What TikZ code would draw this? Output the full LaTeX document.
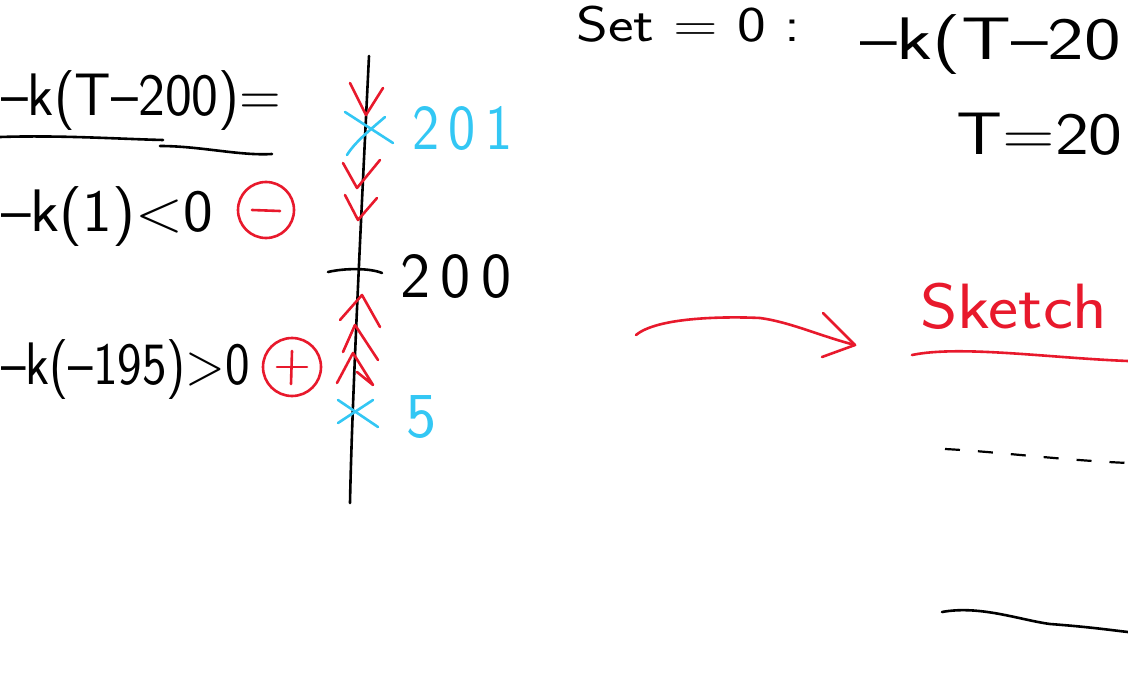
\documentclass[tikz,border=0pt]{standalone}
\usetikzlibrary{calc}
\definecolor{inkred}{HTML}{E8192C}
\definecolor{inkblue}{HTML}{33C7F4}
\tikzset{
  ink/.style={line width=2.6pt, line cap=round, line join=round},
  hand/.style={inner sep=0pt, anchor=base west, font=\fontsize{60}{70}\selectfont\sffamily},
  handmid/.style={inner sep=0pt, anchor=base west, font=\fontsize{50}{58}\selectfont\sffamily},
  handbig/.style={inner sep=0pt, anchor=base west, font=\fontsize{64}{74}\selectfont\sffamily},
}
\begin{document}
\begin{tikzpicture}[x=1pt,y=-1pt]
\useasboundingbox (0,0) rectangle (1128,698);
\clip (0,0) rectangle (1128,698);
\fill[white] (0,0) rectangle (1128,698);
% left column
\node[hand, xscale=0.95] (eq1) at (1,116) {\textendash k(T\textendash 200)=};
\draw[ink] (0,137) .. controls (60,135) and (120,139) .. (163,140);
\draw[ink] (160,146) .. controls (200,146) and (240,156) .. (272,154);
\node[hand, xscale=1.05] (eq2) at (1,231) {\textendash k(1)<0};
\node[draw=inkred, ink, circle, minimum size=56pt, inner sep=0pt] (minus) at (266,210) {};
\draw[ink, inkred] ($(minus.center)+(-14,0)$) -- ($(minus.center)+(14,1)$);
\node[hand, xscale=0.87] (eq3) at (1,384) {\textendash k(\textendash 195)>0};
\node[draw=inkred, ink, circle, minimum size=58pt, inner sep=0pt] (plus) at (292,367) {};
\draw[ink, inkred] ($(plus.center)+(-15,0)$) -- ($(plus.center)+(15,0)$);
\draw[ink, inkred] ($(plus.center)+(0,-16)$) -- ($(plus.center)+(-1,17)$);
% axis
\coordinate (atop) at (369,56);
\coordinate (abot) at (350,503);
\draw[ink] (atop) .. controls (362,200) and (352,400) .. (abot);
\coordinate (tl) at (328,272);
\coordinate (tr) at (382,273);
\draw[ink] (tl) .. controls (345,268) and (370,268) .. (tr);
\node[handbig] (l200) at (400,297) {2\,0\,0};
% blue crosses
\draw[ink, inkblue] (345,112) -- (393,143);
\draw[ink, inkblue] (385,117) .. controls (370,130) and (355,142) .. (347,155);
\node[handbig, text=inkblue, xscale=0.9] (l201) at (412,150) {2\,0\,1};
\draw[ink, inkblue] (338,400) -- (378,427);
\draw[ink, inkblue] (373,400) -- (338,423);
\node[handbig, text=inkblue] (l5) at (406,437) {5};
% red chevrons down
\draw[ink, inkred] (350,83) -- (366,115) -- (383,88);
\draw[ink, inkred] (343,163) -- (357,188) -- (380,160);
\draw[ink, inkred] (345,195) -- (358,220) -- (377,198);
% red chevrons up
\draw[ink, inkred] (340,320) -- (362,295) -- (380,327);
\draw[ink, inkred] (343,352) -- (355,325) -- (378,360);
\draw[ink, inkred] (337,383) -- (353,353) -- (373,385) -- (357,372);
% top right
\node[handmid, xscale=1.22] (set) at (576,42) {Set = 0 :};
\node[hand, xscale=1.3] (eq4) at (860,60) {\textendash k(T\textendash 20};
\node[hand, xscale=1.2] (eq5) at (956,155) {T=20};
% red arrow
\coordinate (arrS) at (636,335);
\coordinate (arrE) at (855,345);
\draw[ink, inkred] (arrS) .. controls (660,315) and (740,317) .. (760,318) .. controls (790,322) and (820,336) .. (arrE);
\draw[ink, inkred] (823,313) -- (arrE) -- (822,357);
% sketch
\node[handbig, text=inkred, xscale=1.12] (sk) at (920,328) {Sketch};
\draw[ink, inkred] (912,355) .. controls (960,345) and (1050,358) .. (1128,361);
% dashed line
\coordinate (dS) at (945,449);
\coordinate (dE) at (1128,463);
\draw[line width=2.2pt, dashed, dash pattern=on 15pt off 18pt] (dS) .. controls (1000,452) and (1060,460) .. (dE);
% bottom line
\coordinate (bS) at (942,612);
\coordinate (bE) at (1128,632);
\draw[ink] (bS) .. controls (980,605) and (1020,620) .. (1050,624) .. controls (1090,627) and (1110,630) .. (bE);
\end{tikzpicture}
\end{document}
